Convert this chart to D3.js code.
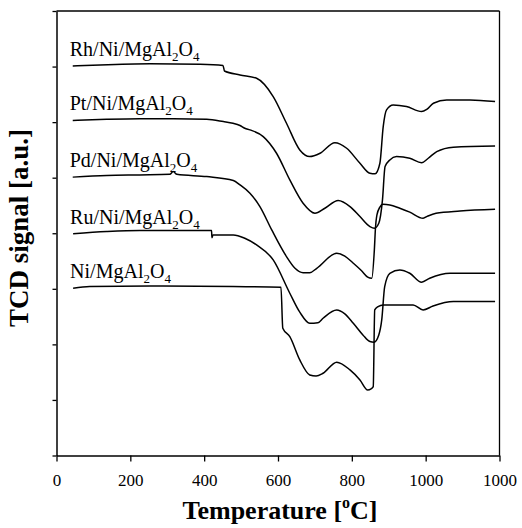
<!DOCTYPE html>
<html><head><meta charset="utf-8">
<script src="https://cdn.jsdelivr.net/npm/d3@7"></script>
<style>body{margin:0;background:#fff}svg{display:block}</style>
</head><body>
<svg id="c" width="522" height="528"></svg>
<script>
// ---- data (temperature °C, TCD signal a.u.) ----
const xTicks = [0, 200, 400, 600, 800, 1000, 1200];
const xTickLabels = ["0", "200", "400", "600", "800", "1000", "1000"];
const yTicks = [0, 1, 2, 3, 4, 5, 6, 7, 8];

const rh = [[44,7.01],[118,7.03],[253,7.05],[389,7.04],[451,7.02],[455,6.92],[497,6.85],[542,6.79],[587,6.46],[623,5.98],[659,5.50],[686,5.38],[714,5.44],[754,5.63],[786,5.53],[822,5.26],[849,5.08],[863,5.07],[876,5.26],[885,5.92],[894,6.22],[912,6.31],[948,6.28],[989,6.19],[1003,6.23],[1021,6.34],[1057,6.40],[1120,6.40],[1188,6.37]];
const pt = [[44,6.03],[136,6.05],[226,6.06],[316,6.06],[407,6.05],[452,6.01],[478,5.98],[497,5.94],[510,5.89],[524,5.86],[560,5.74],[596,5.44],[632,4.96],[668,4.54],[700,4.36],[727,4.45],[763,4.59],[795,4.48],[822,4.30],[849,4.12],[861,4.09],[873,4.18],[883,4.60],[890,5.20],[903,5.32],[921,5.38],[957,5.35],[989,5.27],[1007,5.35],[1030,5.47],[1075,5.55],[1188,5.57]];
const pd = [[44,5.01],[136,5.04],[226,5.05],[307,5.06],[316,5.11],[326,5.06],[407,5.02],[479,4.95],[497,4.87],[524,4.72],[551,4.48],[583,4.06],[623,3.58],[646,3.37],[668,3.29],[686,3.29],[705,3.37],[759,3.64],[781,3.59],[804,3.46],[827,3.32],[843,3.21],[854,3.19],[861,3.70],[864,4.09],[868,4.33],[876,4.47],[884,4.52],[903,4.51],[930,4.45],[957,4.38],[993,4.27],[1006,4.31],[1028,4.36],[1093,4.40],[1188,4.43]];
const ru = [[45,3.99],[136,4.03],[226,4.05],[420,4.05],[421,3.92],[424,3.97],[479,3.97],[510,3.91],[542,3.79],[587,3.52],[632,2.92],[659,2.58],[686,2.38],[708,2.39],[722,2.47],[759,2.62],[781,2.55],[804,2.38],[830,2.17],[849,2.05],[860,2.04],[873,2.17],[881,2.44],[889,3.04],[903,3.28],[930,3.34],[957,3.28],[989,3.12],[1011,3.19],[1066,3.28],[1188,3.28]];
const ni = [[45,3.01],[90,3.04],[253,3.05],[478,3.04],[608,3.03],[613,2.29],[632,2.14],[659,1.72],[686,1.45],[703,1.43],[722,1.48],[759,1.68],[795,1.54],[822,1.36],[843,1.18],[852,1.20],[858,1.24],[862,2.62],[871,2.68],[885,2.71],[966,2.71],[993,2.62],[1020,2.69],[1075,2.77],[1188,2.77]];

const seriesList = [rh, pt, pd, ru, ni];
const seriesNames = [["Rh/Ni/MgAl","2","O","4"],["Pt/Ni/MgAl","2","O","4"],["Pd/Ni/MgAl","2","O","4"],["Ru/Ni/MgAl","2","O","4"],["Ni/MgAl","2","O","4"]];

// ---- drawing ----
const svg = d3.select("#c");
const x = d3.scaleLinear().domain([0, 1200]).range([56.5, 499.5]);
const y = d3.scaleLinear().domain([0, 8]).range([455.5, 11]);
const font = "'Liberation Serif', 'Times New Roman', serif";

// frame
svg.append("line").attr("x1", x(0)).attr("x2", x(1200)).attr("y1", y(8)).attr("y2", y(8)).attr("stroke", "#000").attr("stroke-width", 1.3);
svg.append("line").attr("x1", x(1200)).attr("x2", x(1200)).attr("y1", y(8)).attr("y2", y(0)).attr("stroke", "#000").attr("stroke-width", 1.3);

const gx = svg.append("g").attr("transform", `translate(0,${y(0)})`)
  .call(d3.axisBottom(x).tickValues(xTicks).tickSize(6).tickSizeOuter(0).tickFormat((d, i) => xTickLabels[i]));
gx.select(".domain").attr("stroke-width", 1.5);
gx.selectAll(".tick line").attr("stroke-width", 1.3);
gx.selectAll(".tick text").attr("font-family", font).attr("font-size", 17).attr("fill", "#000").attr("dy", "1.25em");

const gy = svg.append("g").attr("transform", `translate(${x(0)},0)`)
  .call(d3.axisLeft(y).tickValues(yTicks).tickSize(4).tickSizeOuter(0).tickFormat(""));
gy.select(".domain").attr("stroke-width", 1.5);
gy.selectAll(".tick line").attr("stroke-width", 1.3);

const line = d3.line().x(d => x(d[0])).y(d => y(d[1])).curve(d3.curveMonotoneX);
svg.selectAll("path.series").data(seriesList).join("path")
  .attr("class", "series").attr("d", line)
  .attr("fill", "none").attr("stroke", "#000").attr("stroke-width", 1.5);

// labels
seriesList.forEach((s, i) => {
  const parts = seriesNames[i];
  const t = svg.append("text").attr("x", x(s[0][0]) - 3).attr("y", y(s[0][1]) - 10)
    .attr("font-family", font).attr("font-size", 20).attr("fill", "#000");
  t.append("tspan").text(parts[0]);
  t.append("tspan").attr("font-size", 13).attr("dy", 5).text(parts[1]);
  t.append("tspan").attr("dy", -5).text(parts[2]);
  t.append("tspan").attr("font-size", 13).attr("dy", 5).text(parts[3]);
});

// axis titles
const xt = svg.append("text").attr("x", 280).attr("y", 519).attr("text-anchor", "middle")
  .attr("font-family", font).attr("font-size", 26).attr("font-weight", "bold").attr("fill", "#000");
xt.append("tspan").text("Temperature [");
xt.append("tspan").attr("font-size", 16).attr("dy", -11).text("o");
xt.append("tspan").attr("dy", 11).text("C]");

svg.append("text").attr("transform", "translate(28,228) rotate(-90)").attr("text-anchor", "middle")
  .attr("font-family", font).attr("font-size", 27).attr("font-weight", "bold").attr("fill", "#000")
  .text("TCD signal [a.u.]");
</script>
</body></html>
